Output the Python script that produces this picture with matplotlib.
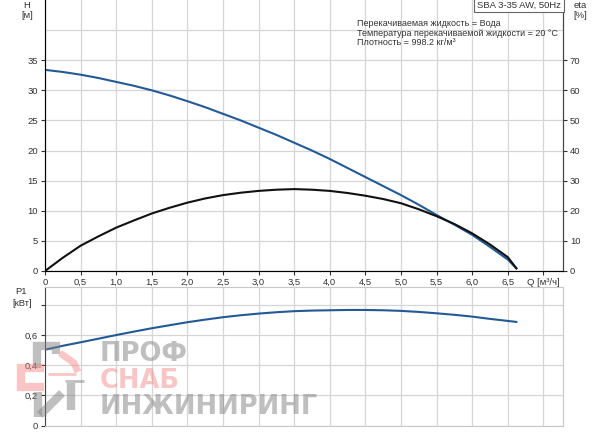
import matplotlib
matplotlib.use("Agg")
import matplotlib.pyplot as plt
from matplotlib.lines import Line2D

# pump curve SBA 3-35 AW, 50Hz
q = [0.0, 0.25, 0.5, 0.75, 1.0, 1.25, 1.5, 1.75, 2.0, 2.25, 2.5, 2.75, 3.0, 3.25,
     3.5, 3.75, 4.0, 4.25, 4.5, 4.75, 5.0, 5.25, 5.5, 5.75, 6.0, 6.25, 6.5, 6.62]
head = [33.4, 33.05, 32.6, 32.05, 31.4, 30.75, 30.0, 29.15, 28.2, 27.2, 26.1, 25.0,
        23.8, 22.6, 21.3, 20.0, 18.6, 17.1, 15.6, 14.1, 12.6, 11.0, 9.3, 7.7,
        6.0, 4.0, 1.9, 0.45]
eta = [0.0, 4.4, 8.4, 11.5, 14.4, 16.8, 19.1, 21.0, 22.7, 24.1, 25.2, 26.0, 26.6,
       27.0, 27.2, 27.0, 26.6, 25.9, 25.0, 23.9, 22.5, 20.5, 18.2, 15.6, 12.5,
       8.8, 4.6, 0.9]
q_p1 = [0.03, 0.25, 0.5, 0.75, 1.0, 1.25, 1.5, 1.75, 2.0, 2.25, 2.5, 2.75, 3.0,
        3.25, 3.5, 3.75, 4.0, 4.25, 4.5, 4.75, 5.0, 5.25, 5.5, 5.75, 6.0, 6.25, 6.62]
p1 = [0.506, 0.529, 0.552, 0.576, 0.600, 0.623, 0.645, 0.665, 0.685, 0.702, 0.718,
      0.731, 0.742, 0.751, 0.758, 0.762, 0.764, 0.766, 0.766, 0.764, 0.760, 0.753,
      0.744, 0.734, 0.722, 0.707, 0.687]

x_ticks = [0.0, 0.5, 1.0, 1.5, 2.0, 2.5, 3.0, 3.5, 4.0, 4.5, 5.0, 5.5, 6.0, 6.5, 7.0]
x_labels = ["0", "0,5", "1,0", "1,5", "2,0", "2,5", "3,0", "3,5", "4,0", "4,5",
            "5,0", "5,5", "6,0", "6,5", "Q [м³/ч]"]
h_ticks = [0, 5, 10, 15, 20, 25, 30, 35]
eta_ticks = [0, 10, 20, 30, 40, 50, 60, 70]
p_ticks = [0.0, 0.2, 0.4, 0.6]
p_labels = ["0", "0,2", "0,4", "0,6"]

info_lines = ["Перекачиваемая жидкость = Вода",
              "Температура перекачиваемой жидкости = 20 °C",
              "Плотность = 998.2 кг/м³"]

W, H = 600, 434
BLUE = "#235a96"
GRID = "#d6d6d6"
SPINE = "#444444"
TXT = "#333333"
FS = 6.8

plt.rcParams["font.family"] = ["Liberation Sans", "DejaVu Sans"]
fig = plt.figure(figsize=(W / 100, H / 100), dpi=100)


def box(x0, y0, x1, y1):
    # pixel box (top-left origin) -> figure fraction
    return [x0 / W, 1 - y1 / H, (x1 - x0) / W, (y1 - y0) / H]


def ftext(x, y, s, fs=FS, **kw):
    fig.text(x / W, 1 - y / H, s, fontsize=fs, color=TXT, **kw)


xmax = (563 - 45) / 71.2

# ---- top: head + efficiency
ax = fig.add_axes(box(45, 0, 563, 271))
ax.plot(q, head, color=BLUE, lw=1.5, zorder=3)
ax.set_xlim(0, xmax)
ax.set_ylim(0, 45)
ax.set_xticks(x_ticks)
ax.set_xticklabels(x_labels)
ax.set_yticks(h_ticks)
ax.set_yticks([40], minor=True)
ax.grid(True, which="both", color=GRID, lw=0.9)
ax.tick_params(which="minor", length=0)
ax.tick_params(labelsize=FS, colors=TXT, length=3, width=0.8, pad=2)
for s in ("left", "bottom", "right"):
    ax.spines[s].set_color(SPINE)
ax.spines["top"].set_visible(False)
ax.set_axisbelow(True)

ax2 = ax.twinx()
ax2.plot(q, eta, color="#111111", lw=1.5, zorder=3)
ax2.set_ylim(0, 90)
ax2.set_yticks(eta_ticks)
ax2.tick_params(labelsize=FS, colors=TXT, length=3, width=0.8, pad=2)
ax2.spines["right"].set_color(SPINE)
ax2.spines["top"].set_visible(False)

# ---- bottom: power
bx = fig.add_axes(box(45, 286.7, 563, 425.7))
bx.plot(q_p1, p1, color=BLUE, lw=1.5, zorder=3)
bx.set_xlim(0, xmax)
bx.set_ylim(0, 0.92)
bx.set_xticks(x_ticks)
bx.set_xticklabels([])
bx.set_yticks(p_ticks + [0.8])
bx.set_yticklabels(p_labels + [""])
bx.grid(True, color=GRID, lw=0.9)
bx.tick_params(axis="x", length=0)
bx.tick_params(axis="y", labelsize=FS, colors=TXT, length=3, width=0.8, pad=2)
for s in ("top", "right", "bottom"):
    bx.spines[s].set_color("#c8c8c8")
bx.spines["left"].set_color(SPINE)
bx.set_axisbelow(True)

# ---- axis titles / info
ftext(27, 5, "H", ha="center", va="center")
ftext(27, 16, "[м]", ha="center", va="center")
ftext(580, 5, "eta", ha="center", va="center")
ftext(580, 16, "[%]", ha="center", va="center")
ftext(21, 292, "P1", ha="center", va="center")
ftext(22, 303, "[кВт]", ha="center", va="center")
for i, line in enumerate(info_lines):
    ftext(357, 24 + i * 9.3, line, fs=6.5, ha="left", va="center")
fig.text(519 / W, 1 - 5 / H, "SBA 3-35 AW, 50Hz", fontsize=FS, color=TXT,
         ha="center", va="center",
         bbox=dict(boxstyle="square,pad=0.3", fc="white", ec="#666666", lw=0.8))

# ---- watermark
GREY = (0.5, 0.5, 0.5, 0.5)
PINK = (0.95, 0.5, 0.5, 0.45)


def wline(pts, color, lw):
    xs = [p[0] / W for p in pts]
    ys = [1 - p[1] / H for p in pts]
    fig.add_artist(Line2D(xs, ys, color=color, lw=lw, solid_capstyle="butt",
                          solid_joinstyle="miter", transform=fig.transFigure))


wline([(37, 368), (37, 346), (56, 346), (56, 354)], GREY, 6)
wline([(44, 368), (21, 368), (21, 387), (44, 387)], PINK, 6)
wline([(60, 353), (74, 363), (78, 372)], PINK, 5)
wline([(48, 374), (76, 374)], PINK, 2)
wline([(38, 392), (38, 417)], GREY, 6)
wline([(40, 415), (62, 393)], GREY, 6)
wline([(71, 383), (71, 410)], GREY, 6)
wline([(65, 381), (84, 381)], GREY, 2)
wm = dict(fontsize=18.5, fontweight="bold", family="DejaVu Sans")
fig.text(100 / W, 1 - 361 / H, "ПРОФ", color=GREY, **wm)
fig.text(100 / W, 1 - 388 / H, "СНАБ", color=PINK, **wm)
fig.text(100 / W, 1 - 414 / H, "ИНЖИНИРИНГ", color=GREY, **wm)

fig.savefig("out.png", dpi=100)
